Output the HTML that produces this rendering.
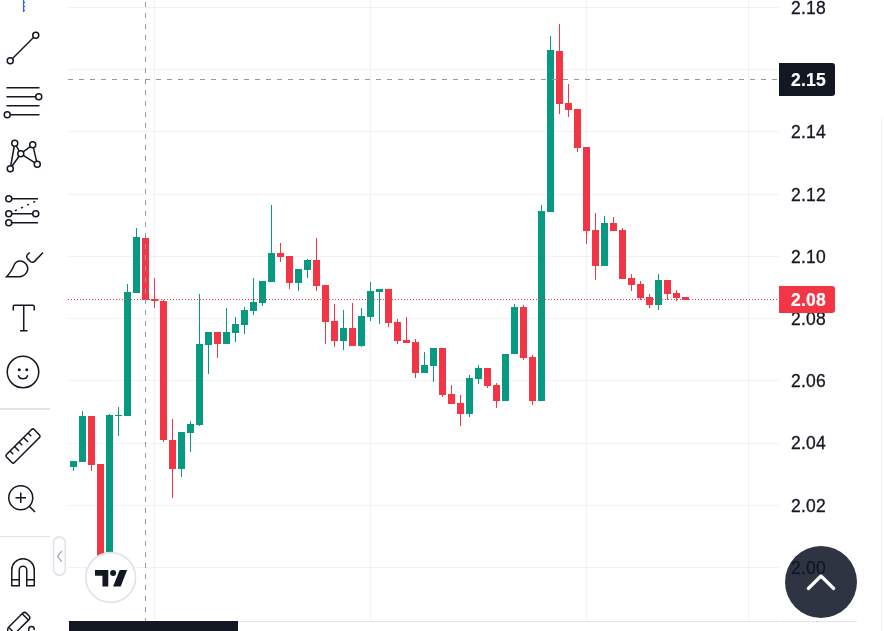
<!DOCTYPE html>
<html>
<head>
<meta charset="utf-8">
<title>Chart</title>
<style>
html,body{margin:0;padding:0;background:#fff;}
body{width:884px;height:631px;position:relative;overflow:hidden;font-family:"Liberation Sans",sans-serif;}
#chart{position:absolute;left:0;top:0;width:884px;height:631px;}
.lbl{-webkit-text-stroke:0.3px #131722;will-change:transform;position:absolute;left:779px;width:78px;font-size:17.5px;letter-spacing:0.2px;line-height:20px;height:20px;color:#131722;text-align:left;text-indent:12px;white-space:nowrap;}
.box{-webkit-text-stroke:0.2px #fff;will-change:transform;position:absolute;left:779px;width:56px;color:#fff;font-weight:bold;font-size:17.5px;letter-spacing:0.2px;text-indent:12px;white-space:nowrap;border-radius:0 3px 3px 0;}
.ico{position:absolute;left:2px;width:42px;height:42px;color:#131722;}
.sep{position:absolute;left:0;width:50px;height:2px;background:#e0e3eb;}
</style>
</head>
<body>
<svg id="chart" width="884" height="631" viewBox="0 0 884 631">
<g shape-rendering="crispEdges">
<!-- grid -->
<g fill="#5d6b98" fill-opacity="0.09">
<rect x="68" y="7" width="711" height="1"/>
<rect x="68" y="69" width="711" height="1"/>
<rect x="68" y="131" width="711" height="1"/>
<rect x="68" y="194" width="711" height="1"/>
<rect x="68" y="256" width="711" height="1"/>
<rect x="68" y="318" width="711" height="1"/>
<rect x="68" y="380" width="711" height="1"/>
<rect x="68" y="443" width="711" height="1"/>
<rect x="68" y="505" width="711" height="1"/>
<rect x="68" y="567" width="711" height="1"/>
<rect x="154" y="0" width="1" height="621"/>
<rect x="370" y="0" width="1" height="621"/>
<rect x="586" y="0" width="1" height="621"/>
<rect x="748" y="0" width="1" height="621"/>
</g>
<!-- axis borders -->
<rect x="68" y="621" width="711" height="1" fill="#e0e3eb"/>
<rect x="780" y="621" width="77" height="1" fill="#e0e3eb"/>
<rect x="881" y="116" width="1" height="515" fill="#f0f3fa"/>
<!-- candles -->
<rect x="73" y="461" width="1" height="10" fill="#089981"/>
<rect x="70" y="461" width="7" height="6" fill="#089981"/>
<rect x="82" y="411" width="1" height="51" fill="#089981"/>
<rect x="79" y="416" width="7" height="46" fill="#089981"/>
<rect x="91" y="416" width="1" height="55" fill="#f23645"/>
<rect x="88" y="416" width="7" height="49" fill="#f23645"/>
<rect x="97" y="464" width="7" height="116" fill="#f23645"/>
<rect x="109" y="414" width="1" height="138" fill="#089981"/>
<rect x="106" y="415" width="7" height="137" fill="#089981"/>
<rect x="118" y="407" width="1" height="29" fill="#089981"/>
<rect x="115" y="415" width="7" height="1" fill="#089981"/>
<rect x="127" y="284" width="1" height="132" fill="#089981"/>
<rect x="124" y="292" width="7" height="124" fill="#089981"/>
<rect x="136" y="228" width="1" height="65" fill="#089981"/>
<rect x="133" y="237" width="7" height="56" fill="#089981"/>
<rect x="142" y="238" width="7" height="62" fill="#f23645"/>
<rect x="154" y="278" width="1" height="30" fill="#f23645"/>
<rect x="151" y="299" width="7" height="2" fill="#f23645"/>
<rect x="163" y="300" width="1" height="142" fill="#f23645"/>
<rect x="160" y="301" width="7" height="139" fill="#f23645"/>
<rect x="172" y="419" width="1" height="79" fill="#f23645"/>
<rect x="169" y="440" width="7" height="29" fill="#f23645"/>
<rect x="181" y="432" width="1" height="45" fill="#089981"/>
<rect x="178" y="432" width="7" height="37" fill="#089981"/>
<rect x="190" y="421" width="1" height="31" fill="#089981"/>
<rect x="187" y="424" width="7" height="9" fill="#089981"/>
<rect x="199" y="294" width="1" height="132" fill="#089981"/>
<rect x="196" y="344" width="7" height="81" fill="#089981"/>
<rect x="208" y="332" width="1" height="42" fill="#089981"/>
<rect x="205" y="332" width="7" height="13" fill="#089981"/>
<rect x="217" y="332" width="1" height="26" fill="#f23645"/>
<rect x="214" y="332" width="7" height="12" fill="#f23645"/>
<rect x="226" y="308" width="1" height="36" fill="#089981"/>
<rect x="223" y="332" width="7" height="12" fill="#089981"/>
<rect x="235" y="317" width="1" height="25" fill="#089981"/>
<rect x="232" y="324" width="7" height="9" fill="#089981"/>
<rect x="244" y="307" width="1" height="27" fill="#089981"/>
<rect x="241" y="310" width="7" height="15" fill="#089981"/>
<rect x="253" y="278" width="1" height="37" fill="#089981"/>
<rect x="250" y="302" width="7" height="9" fill="#089981"/>
<rect x="262" y="281" width="1" height="25" fill="#089981"/>
<rect x="259" y="281" width="7" height="22" fill="#089981"/>
<rect x="271" y="205" width="1" height="77" fill="#089981"/>
<rect x="268" y="253" width="7" height="29" fill="#089981"/>
<rect x="280" y="243" width="1" height="19" fill="#f23645"/>
<rect x="277" y="253" width="7" height="4" fill="#f23645"/>
<rect x="289" y="256" width="1" height="33" fill="#f23645"/>
<rect x="286" y="256" width="7" height="27" fill="#f23645"/>
<rect x="298" y="269" width="1" height="22" fill="#089981"/>
<rect x="295" y="269" width="7" height="14" fill="#089981"/>
<rect x="307" y="259" width="1" height="19" fill="#089981"/>
<rect x="304" y="260" width="7" height="10" fill="#089981"/>
<rect x="316" y="238" width="1" height="53" fill="#f23645"/>
<rect x="313" y="260" width="7" height="26" fill="#f23645"/>
<rect x="325" y="285" width="1" height="59" fill="#f23645"/>
<rect x="322" y="285" width="7" height="37" fill="#f23645"/>
<rect x="334" y="304" width="1" height="43" fill="#f23645"/>
<rect x="331" y="321" width="7" height="20" fill="#f23645"/>
<rect x="343" y="310" width="1" height="40" fill="#089981"/>
<rect x="340" y="328" width="7" height="13" fill="#089981"/>
<rect x="352" y="303" width="1" height="43" fill="#f23645"/>
<rect x="349" y="328" width="7" height="18" fill="#f23645"/>
<rect x="361" y="308" width="1" height="39" fill="#089981"/>
<rect x="358" y="316" width="7" height="30" fill="#089981"/>
<rect x="370" y="282" width="1" height="39" fill="#089981"/>
<rect x="367" y="291" width="7" height="26" fill="#089981"/>
<rect x="379" y="289" width="1" height="35" fill="#089981"/>
<rect x="376" y="289" width="7" height="3" fill="#089981"/>
<rect x="388" y="289" width="1" height="38" fill="#f23645"/>
<rect x="385" y="289" width="7" height="34" fill="#f23645"/>
<rect x="397" y="319" width="1" height="25" fill="#f23645"/>
<rect x="394" y="322" width="7" height="19" fill="#f23645"/>
<rect x="406" y="317" width="1" height="26" fill="#f23645"/>
<rect x="403" y="340" width="7" height="3" fill="#f23645"/>
<rect x="415" y="339" width="1" height="39" fill="#f23645"/>
<rect x="412" y="342" width="7" height="31" fill="#f23645"/>
<rect x="424" y="352" width="1" height="21" fill="#089981"/>
<rect x="421" y="365" width="7" height="8" fill="#089981"/>
<rect x="433" y="348" width="1" height="34" fill="#089981"/>
<rect x="430" y="348" width="7" height="18" fill="#089981"/>
<rect x="442" y="348" width="1" height="49" fill="#f23645"/>
<rect x="439" y="348" width="7" height="47" fill="#f23645"/>
<rect x="451" y="385" width="1" height="19" fill="#f23645"/>
<rect x="448" y="394" width="7" height="10" fill="#f23645"/>
<rect x="460" y="395" width="1" height="31" fill="#f23645"/>
<rect x="457" y="403" width="7" height="11" fill="#f23645"/>
<rect x="469" y="375" width="1" height="42" fill="#089981"/>
<rect x="466" y="378" width="7" height="36" fill="#089981"/>
<rect x="478" y="365" width="1" height="19" fill="#089981"/>
<rect x="475" y="368" width="7" height="11" fill="#089981"/>
<rect x="487" y="368" width="1" height="20" fill="#f23645"/>
<rect x="484" y="368" width="7" height="18" fill="#f23645"/>
<rect x="496" y="383" width="1" height="25" fill="#f23645"/>
<rect x="493" y="385" width="7" height="16" fill="#f23645"/>
<rect x="502" y="354" width="7" height="47" fill="#089981"/>
<rect x="514" y="304" width="1" height="50" fill="#089981"/>
<rect x="511" y="307" width="7" height="47" fill="#089981"/>
<rect x="523" y="305" width="1" height="55" fill="#f23645"/>
<rect x="520" y="307" width="7" height="51" fill="#f23645"/>
<rect x="532" y="355" width="1" height="50" fill="#f23645"/>
<rect x="529" y="357" width="7" height="44" fill="#f23645"/>
<rect x="541" y="205" width="1" height="196" fill="#089981"/>
<rect x="538" y="211" width="7" height="190" fill="#089981"/>
<rect x="550" y="36" width="1" height="176" fill="#089981"/>
<rect x="547" y="50" width="7" height="162" fill="#089981"/>
<rect x="559" y="24" width="1" height="90" fill="#f23645"/>
<rect x="556" y="51" width="7" height="53" fill="#f23645"/>
<rect x="568" y="84" width="1" height="33" fill="#f23645"/>
<rect x="565" y="103" width="7" height="7" fill="#f23645"/>
<rect x="577" y="109" width="1" height="43" fill="#f23645"/>
<rect x="574" y="109" width="7" height="39" fill="#f23645"/>
<rect x="586" y="147" width="1" height="97" fill="#f23645"/>
<rect x="583" y="147" width="7" height="84" fill="#f23645"/>
<rect x="595" y="213" width="1" height="67" fill="#f23645"/>
<rect x="592" y="230" width="7" height="36" fill="#f23645"/>
<rect x="604" y="216" width="1" height="50" fill="#089981"/>
<rect x="601" y="223" width="7" height="43" fill="#089981"/>
<rect x="613" y="217" width="1" height="14" fill="#f23645"/>
<rect x="610" y="223" width="7" height="8" fill="#f23645"/>
<rect x="622" y="228" width="1" height="51" fill="#f23645"/>
<rect x="619" y="230" width="7" height="49" fill="#f23645"/>
<rect x="631" y="274" width="1" height="17" fill="#f23645"/>
<rect x="628" y="278" width="7" height="7" fill="#f23645"/>
<rect x="640" y="281" width="1" height="19" fill="#f23645"/>
<rect x="637" y="284" width="7" height="14" fill="#f23645"/>
<rect x="649" y="294" width="1" height="14" fill="#f23645"/>
<rect x="646" y="297" width="7" height="8" fill="#f23645"/>
<rect x="658" y="274" width="1" height="36" fill="#089981"/>
<rect x="655" y="280" width="7" height="25" fill="#089981"/>
<rect x="667" y="280" width="1" height="20" fill="#f23645"/>
<rect x="664" y="280" width="7" height="14" fill="#f23645"/>
<rect x="676" y="290" width="1" height="11" fill="#f23645"/>
<rect x="673" y="293" width="7" height="5" fill="#f23645"/>
<rect x="682" y="297" width="7" height="3" fill="#f23645"/>
<!-- price line dotted -->
<line x1="68" y1="299.5" x2="779" y2="299.5" stroke="#f23645" stroke-width="1" stroke-dasharray="1 2"/>
<!-- crosshair -->
<line x1="68" y1="79.5" x2="779" y2="79.5" stroke="#9598a1" stroke-width="1" stroke-dasharray="5 6"/>
<line x1="145.5" y1="2" x2="145.5" y2="621" stroke="#9598a1" stroke-width="1" stroke-dasharray="5 6"/>
<!-- time label -->
<rect x="69" y="621" width="169" height="10" fill="#131722"/>
</g>
</svg>

<!-- price labels -->
<div class="lbl" style="top:-2px">2.18</div>
<div class="lbl" style="top:122px">2.14</div>
<div class="lbl" style="top:185px">2.12</div>
<div class="lbl" style="top:247px">2.10</div>
<div class="lbl" style="top:309px">2.08</div>
<div class="lbl" style="top:371px">2.06</div>
<div class="lbl" style="top:433px">2.04</div>
<div class="lbl" style="top:496px">2.02</div>
<div class="lbl" style="top:558px">2.00</div>
<div class="box" style="top:286px;height:27px;line-height:28px;background:#f23645;">2.08</div>
<div class="box" style="top:63px;height:33px;line-height:35px;background:#131722;">2.15</div>

<!-- scroll-to-top button -->
<svg style="position:absolute;left:785px;top:546px" width="72" height="72" viewBox="0 0 72 72">
<circle cx="36" cy="36" r="36" fill="#0f1625" fill-opacity="0.87"/>
<path d="M23.300 42.500 L36 30 L48.700 42.500" fill="none" stroke="#fff" stroke-width="3.2" stroke-linecap="round" stroke-linejoin="round"/>
</svg>

<!-- TV logo -->
<svg style="position:absolute;left:84px;top:551px" width="54" height="54" viewBox="84 551 54 54">
<circle cx="110.650" cy="577.500" r="24.900" fill="#fff" stroke="#e0e3eb" stroke-width="1.700"/>
<g fill="#131722">
<path d="M95 570.100H108.300V586.500H102.450V575.800H95Z"/>
<circle cx="113.100" cy="572.950" r="3"/>
<path d="M119.700 570.100H127.100L120.700 586.500H113.100Z"/>
</g>
</svg>

<!-- collapse handle -->
<svg style="position:absolute;left:52px;top:535px" width="16" height="43" viewBox="0 0 16 43">
<rect x="1.6" y="1.9" width="11.6" height="38.4" rx="5.800" ry="5.800" fill="#fff" stroke="#e0e3eb" stroke-width="1.6"/>
<path d="M9.500 16.300 L5.600 21.400 L9.500 26.400" fill="none" stroke="#a3a6af" stroke-width="1.3" stroke-linecap="round" stroke-linejoin="round"/>
</svg>

<!-- toolbar -->
<div class="sep" style="top:408px"></div>
<div class="sep" style="top:536px;height:1px"></div>

<!-- crosshair cursor remnant (blue) -->
<svg style="position:absolute;left:18px;top:0" width="12" height="14" viewBox="0 0 12 14">
<rect x="4.900" y="0" width="1.300" height="12" fill="#2962ff"/>
<rect x="6" y="1.9" width="1" height="1.200" fill="#2962ff"/>
<rect x="6" y="5.900" width="1" height="1.200" fill="#2962ff"/>
<rect x="6" y="9.900" width="1" height="1.200" fill="#2962ff"/>
</svg>

<!-- trend line -->
<svg class="ico" style="top:27px" viewBox="0 0 28 28"><g fill="none" stroke="currentColor" stroke-width="1">
<path d="M7 21L21 7"/><circle cx="22.500" cy="5.500" r="2"/><circle cx="5.500" cy="22.500" r="2"/></g></svg>

<!-- fib -->
<svg class="ico" style="top:81px" viewBox="0 0 28 28"><g fill="none" stroke="currentColor" stroke-width="1">
<path d="M3 4.500H25M3 10.500H22.500M3 16.500H25M5.500 22.500H25"/><circle cx="24.500" cy="10.500" r="2"/><circle cx="3.500" cy="22.500" r="2"/></g></svg>

<!-- pattern -->
<svg class="ico" style="top:135px" viewBox="0 0 28 28"><g fill="none" stroke="currentColor" stroke-width="1">
<path d="M5.850 20.500L8.150 7.500M9.500 7.250L11.500 10.750M14.100 11.300L18.900 7.700M20.950 8.450L23.050 17.550M14.200 13.550L21.800 18.450M11.350 14.150L6.650 20.850"/>
<circle cx="8.500" cy="5.500" r="2"/><circle cx="5.500" cy="22.500" r="2"/><circle cx="12.500" cy="12.500" r="2"/><circle cx="20.500" cy="6.500" r="2"/><circle cx="23.500" cy="19.500" r="2"/></g></svg>

<!-- long position -->
<svg class="ico" style="top:189px" viewBox="0 0 28 28"><g fill="none" stroke="currentColor" stroke-width="1">
<path d="M6.500 6.500H24M6.500 16.500H20.500M6.500 22.500H24"/>
<path d="M8.570 14.570L22.180 8.280" stroke-dasharray="1.500 2.990" stroke-width="0.900"/>
<circle cx="4.500" cy="6.500" r="2"/><circle cx="4.500" cy="16.500" r="2"/><circle cx="22.500" cy="16.500" r="2"/><circle cx="4.500" cy="22.500" r="2"/></g></svg>

<!-- brush -->
<svg class="ico" style="top:243px" viewBox="0 0 28 28"><g fill="currentColor" fill-rule="nonzero">
<path d="M1.789 23l.859-.854.221-.228c.18-.19.380-.409.597-.655.619-.704 1.238-1.478 1.815-2.298.982-1.396 1.738-2.776 2.177-4.081 1.234-3.667 5.957-4.716 8.923-1.263 3.251 3.785-.037 9.380-5.379 9.380h-9.211zm9.211-1c4.544 0 7.272-4.642 4.621-7.728-2.450-2.853-6.225-2.015-7.216.931-.474 1.408-1.273 2.869-2.307 4.337-.599.852-1.241 1.653-1.882 2.383l-.068.078h6.853z"/>
<path d="M18.182 6.002l-1.419 1.286c-1.031.935-1.075 2.501-.096 3.480l1.877 1.877c.976.976 2.553.954 3.513-.045l5.650-5.874-.721-.693-5.650 5.874c-.574.596-1.507.609-2.086.031l-1.877-1.877c-.574-.574-.548-1.480.061-2.032l1.419-1.286-.672-.741z"/></g></svg>

<!-- text -->
<svg class="ico" style="top:297px" viewBox="0 0 28 28"><g fill="none" stroke="currentColor" stroke-width="1">
<path d="M7.500 9V6.500a1 1 0 0 1 1-1h12a1 1 0 0 1 1 1V9M14.500 5.500V22.500M12 22.500h5"/></g></svg>

<!-- emoji -->
<svg class="ico" style="top:351px" viewBox="0 0 28 28"><g fill="none" stroke="currentColor" stroke-width="1">
<circle cx="14" cy="14" r="10.500"/><path d="M11 16.500c.3 1.200 1.500 2 3 2s2.700-.8 3-2" stroke-linecap="round"/></g>
<circle cx="11.500" cy="12.500" r="1" fill="currentColor"/><circle cx="16.500" cy="12.500" r="1" fill="currentColor"/></svg>

<!-- ruler -->
<svg class="ico" style="top:425px" viewBox="0 0 28 28"><g fill="none" stroke="currentColor" stroke-width="1" transform="rotate(-45 14 14)">
<rect x="1" y="10.250" width="26" height="7.500" rx="1.200"/>
<path d="M5.500 10.250v3M9.750 10.250v4.200M14 10.250v3M18.250 10.250v4.200M22.500 10.250v3"/></g></svg>

<!-- zoom -->
<svg class="ico" style="top:479px" viewBox="0 0 28 28"><g fill="none" stroke="currentColor" stroke-width="1">
<circle cx="12.500" cy="12.500" r="8"/><path d="M18 18l4 4M9 12.500h7M12.500 9v7"/></g></svg>

<!-- magnet -->
<svg class="ico" style="top:552px" viewBox="0 0 28 28"><g fill="none" stroke="currentColor" stroke-width="1">
<path d="M6.500 22.500V12a7.500 7.500 0 0 1 15 0V22.500H16.500V12a2.500 2.500 0 0 0-5 0V22.500Z"/><path d="M6.500 18.500h5M16.500 18.500h5"/></g></svg>

<!-- pencil + lock (cropped) -->
<svg style="position:absolute;left:0;top:600px" width="60" height="31" viewBox="0 600 60 31">
<g transform="translate(27.700,614.500) rotate(-45)" fill="none" stroke="#131722" stroke-width="1.500">
<path d="M-22.600 -4.450L-2.800 -4.450Q0 -4.450 0 -1.650L0 1.650Q0 4.450 -2.800 4.450L-34 4.450"/>
<path d="M-3.400 -4.450V4.450M-22.600 -4.450V4.450"/>
<path d="M-22.600 -4.450q-1.200 0 -2 .800l-4 4"/>
</g>
<path d="M28.800 634V629.200a2.700 2.700 0 0 1 5.400 0V630" fill="none" stroke="#131722" stroke-width="1.500"/>
</svg>

</body>
</html>
